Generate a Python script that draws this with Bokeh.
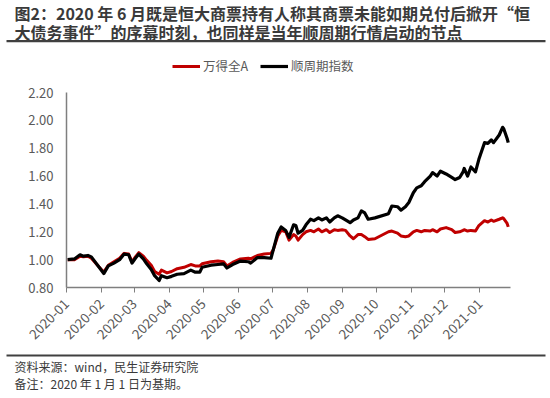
import pandas as pd
from bokeh.plotting import figure
from bokeh.layouts import column
from bokeh.models import (Range1d, FixedTicker, DatetimeTickFormatter, NumeralTickFormatter,
                          Legend, LegendItem, ColumnDataSource)
from bokeh.core.properties import value
from bokeh.embed import file_html
from bokeh.resources import INLINE
from math import pi

FONT = "Noto Sans CJK SC"

title_lines = ["图2：2020 年 6 月既是恒大商票持有人称其商票未能如期兑付后掀开“恒",
               "大债务事件”的序幕时刻，也同样是当年顺周期行情启动的节点"]
footer_lines = ["资料来源：wind，民生证券研究院", "备注：2020 年 1 月 1 日为基期。"]
series_names = ["万得全A", "顺周期指数"]
series_colors = ["#C00000", "#000000"]

dates = ["2020-01-02","2020-01-08","2020-01-13","2020-01-16","2020-01-20","2020-01-23",
         "2020-02-03","2020-02-07","2020-02-12","2020-02-17","2020-02-21","2020-02-25","2020-02-28",
         "2020-03-02","2020-03-05","2020-03-09","2020-03-12","2020-03-16","2020-03-19","2020-03-23","2020-03-25","2020-03-30",
         "2020-04-03","2020-04-08","2020-04-14","2020-04-20","2020-04-24","2020-04-28","2020-04-30",
         "2020-05-08","2020-05-14","2020-05-19","2020-05-22","2020-05-27",
         "2020-06-03","2020-06-10","2020-06-12","2020-06-18","2020-06-24","2020-06-30",
         "2020-07-02","2020-07-06","2020-07-09","2020-07-13","2020-07-16","2020-07-20","2020-07-22","2020-07-24","2020-07-28","2020-07-31",
         "2020-08-04","2020-08-07","2020-08-11","2020-08-14","2020-08-18","2020-08-21","2020-08-25","2020-08-28",
         "2020-09-01","2020-09-04","2020-09-08","2020-09-11","2020-09-15","2020-09-18","2020-09-21","2020-09-24","2020-09-30",
         "2020-10-12","2020-10-15","2020-10-20","2020-10-23","2020-10-27","2020-10-30",
         "2020-11-03","2020-11-06","2020-11-10","2020-11-13","2020-11-18","2020-11-20","2020-11-24","2020-11-27",
         "2020-12-02","2020-12-07","2020-12-10","2020-12-14","2020-12-17","2020-12-18","2020-12-21","2020-12-24","2020-12-28","2020-12-31",
         "2021-01-05","2021-01-08","2021-01-11","2021-01-13","2021-01-18","2021-01-21","2021-01-22","2021-01-25","2021-01-26"]

wind_all_a = [1.00,1.00,1.025,1.02,1.025,1.01,
              0.91,0.96,0.985,1.01,1.045,1.04,0.985,
              1.02,1.05,1.025,0.995,0.96,0.915,0.895,0.925,0.905,
              0.915,0.935,0.945,0.965,0.955,0.955,0.97,
              0.985,0.99,0.985,0.955,0.98,
              1.005,1.01,1.005,1.03,1.04,1.045,
              1.07,1.17,1.21,1.20,1.14,1.18,1.17,1.14,1.18,1.20,
              1.21,1.20,1.22,1.20,1.215,1.195,1.215,1.21,
              1.215,1.21,1.17,1.15,1.18,1.18,1.165,1.145,1.15,
              1.20,1.205,1.19,1.17,1.165,1.17,
              1.20,1.21,1.20,1.21,1.205,1.215,1.20,1.22,
              1.23,1.215,1.195,1.20,1.21,1.215,1.205,1.21,1.205,1.245,
              1.28,1.27,1.285,1.275,1.29,1.30,1.295,1.26,1.235]

cyclical = [1.00,1.005,1.035,1.025,1.03,1.02,
            0.90,0.955,0.975,1.00,1.04,1.035,0.975,
            1.01,1.04,1.005,0.97,0.93,0.885,0.85,0.885,0.87,
            0.88,0.895,0.90,0.925,0.91,0.91,0.945,
            0.96,0.965,0.97,0.94,0.965,
            0.99,0.985,0.975,1.015,1.015,1.01,
            1.07,1.19,1.235,1.21,1.16,1.25,1.245,1.19,1.21,1.25,
            1.29,1.28,1.30,1.285,1.30,1.27,1.30,1.315,
            1.30,1.285,1.265,1.285,1.30,1.35,1.335,1.29,1.30,
            1.33,1.385,1.38,1.355,1.38,1.41,
            1.48,1.515,1.53,1.56,1.60,1.625,1.60,1.635,
            1.615,1.59,1.575,1.59,1.63,1.655,1.60,1.665,1.63,1.72,
            1.84,1.835,1.86,1.84,1.895,1.95,1.94,1.87,1.84]

month_ticks = ["2020-01","2020-02","2020-03","2020-04","2020-05","2020-06","2020-07",
               "2020-08","2020-09","2020-10","2020-11","2020-12","2021-01"]
y_ticks = [0.8, 1.0, 1.2, 1.4, 1.6, 1.8, 2.0, 2.2]

W = 550
TEXT_DARK = "#3a3a3a"
GRAY = "#595959"


def no_align(fig):
    if "frame_align" in fig.properties():
        fig.frame_align = False


df = pd.DataFrame({"date": pd.to_datetime(dates), "a": wind_all_a, "c": cyclical})
src = ColumnDataSource(df)
tick_ms = [int(pd.Timestamp(m + "-01").value // 10**6) for m in month_ticks]

# ---------- top: title + legend ----------
top = figure(width=W, height=84, x_range=Range1d(0, W), y_range=Range1d(84, 0),
             x_axis_location=None, y_axis_location=None,
             output_backend="svg", toolbar_location=None, min_border=0)
no_align(top)
top.grid.visible = False
top.outline_line_color = None
top.text(x=[14, 14], y=[12.5, 31.5], text=title_lines, text_baseline="middle",
         text_font=value(FONT), text_font_style="bold", text_font_size="16px", text_color=TEXT_DARK)
top.segment(x0=[6], y0=[40.6], x1=[545], y1=[40.6], line_color="#404040", line_width=2.2)

# legend keys: same series, styled like the chart lines (they fall outside this panel's view)
key_a = top.line("date", "a", source=src, line_color=series_colors[0], line_width=3)
key_c = top.line("date", "c", source=src, line_color=series_colors[1], line_width=3.2)
legend = Legend(items=[LegendItem(label=series_names[0], renderers=[key_a]),
                       LegendItem(label=series_names[1], renderers=[key_c])],
                orientation="horizontal", location=(172, 9),
                glyph_width=28, glyph_height=16, label_height=16, label_standoff=3, spacing=12,
                padding=0, margin=0, border_line_color=None, background_fill_alpha=0,
                label_text_font=FONT, label_text_font_size="12.5px", label_text_color=GRAY)
top.add_layout(legend, "center")

# ---------- main chart ----------
p = figure(width=W, height=266, x_axis_type="datetime",
           x_range=Range1d(pd.Timestamp("2020-01-01"), pd.Timestamp("2021-01-28")),
           y_range=Range1d(0.8, 2.2),
           output_backend="svg", toolbar_location=None,
           min_border_left=66, min_border_right=40, min_border_top=8, min_border_bottom=63)
no_align(p)
p.outline_line_color = None
p.grid.visible = False

p.line("date", "a", source=src, line_color=series_colors[0], line_width=3, line_join="round")
p.line("date", "c", source=src, line_color=series_colors[1], line_width=3.2, line_join="round")

xa = p.xaxis[0]
xa.ticker = FixedTicker(ticks=tick_ms)
xa.formatter = DatetimeTickFormatter(days="%Y-%m", months="%Y-%m", years="%Y-%m")
xa.major_label_orientation = pi / 4
xa.major_label_text_font = FONT
xa.major_label_text_font_size = "13.5px"
xa.major_label_text_color = GRAY
xa.axis_line_color = "#7f7f7f"
xa.axis_line_width = 1.5
xa.major_tick_line_color = "#7f7f7f"
xa.major_tick_in = 0
xa.major_tick_out = 5
xa.minor_tick_line_color = None
xa.major_label_standoff = 9

ya = p.yaxis[0]
ya.ticker = FixedTicker(ticks=y_ticks)
ya.formatter = NumeralTickFormatter(format="0.00")
ya.major_label_text_font = FONT
ya.major_label_text_font_size = "13px"
ya.major_label_text_color = GRAY
ya.axis_line_color = "#7f7f7f"
ya.axis_line_width = 1.5
ya.major_tick_line_color = None
ya.major_tick_in = 0
ya.major_tick_out = 0
ya.minor_tick_line_color = None
ya.major_label_standoff = 13

# ---------- footer ----------
foot = figure(width=W, height=48, x_range=Range1d(0, W), y_range=Range1d(48, 0),
              x_axis_location=None, y_axis_location=None,
              output_backend="svg", toolbar_location=None, min_border=0)
no_align(foot)
foot.grid.visible = False
foot.outline_line_color = None
foot.segment(x0=[6], y0=[5], x1=[545], y1=[5], line_color="#404040", line_width=2)
foot.text(x=[14, 14], y=[16, 33], text=footer_lines, text_baseline="middle",
          text_font=value(FONT), text_font_size="12px", text_color=TEXT_DARK)

layout = column(top, p, foot, spacing=0)
open("out.html", "w").write(file_html(layout, INLINE))
